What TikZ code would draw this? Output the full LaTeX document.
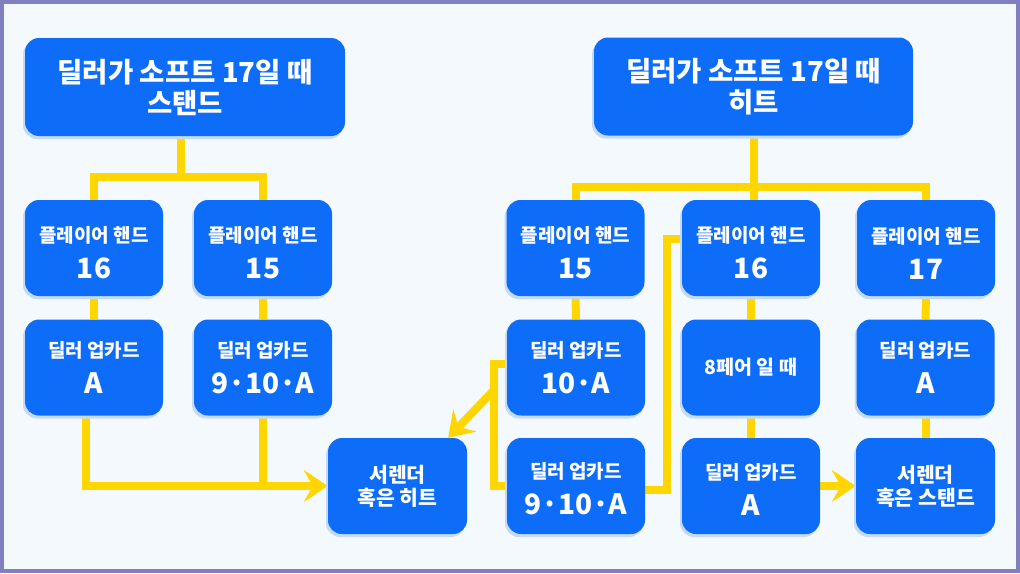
\documentclass[tikz,border=0pt]{standalone}
\usepackage{fontspec}
\setmainfont{Noto Sans CJK KR}[BoldFont={Noto Sans CJK KR Black}]
\usetikzlibrary{arrows.meta,backgrounds,shadows,calc}
\definecolor{nodeblue}{RGB}{13,108,248}
\definecolor{lineyellow}{RGB}{255,214,0}
\definecolor{bgcol}{RGB}{244,249,254}
\definecolor{framecol}{RGB}{128,128,192}
\definecolor{shadowcol}{RGB}{196,218,246}
\newcommand\mynum{\fontsize{28pt}{36pt}\selectfont}
\newcommand\mylab{\fontsize{19pt}{36pt}\selectfont}
\begin{document}
\begin{tikzpicture}[x=1pt,y=-1pt,
  box/.style={rounded corners=14pt, fill=nodeblue, text=white, align=center, inner sep=0pt,
    drop shadow={shadow xshift=-2pt, shadow yshift=-3pt, fill=shadowcol, opacity=1}},
  topbox/.style={box, minimum width=320pt, minimum height=98pt, font=\bfseries\fontsize{27.5pt}{31pt}\selectfont},
  hand/.style={box, minimum width=138pt, minimum height=96pt, font=\bfseries\mylab},
  endbox/.style={box, minimum width=139pt, minimum height=96pt, font=\bfseries\fontsize{20.5pt}{23pt}\selectfont},
  conn/.style={draw=lineyellow, line width=8pt},
  arr/.style={-{Stealth[length=24pt,width=32pt,inset=9pt]}}]
\useasboundingbox (0,0) rectangle (1020,573);
% nodes
\node[topbox] (T1) at (185,87) {딜러가 소프트 17일 때\\스탠드};
\node[topbox, minimum width=319pt] (T2) at (753.5,86.5) {딜러가 소프트 17일 때\\히트};
\node[hand] (L1) at (94,248) {\rule{0pt}{26pt}플레이어 핸드\\\mynum 16};
\node[hand] (L2) at (263,248) {\rule{0pt}{26pt}플레이어 핸드\\\mynum 15};
\node[hand] (L3) at (94,367.5) {딜러 업카드\\\mynum A};
\node[hand] (L4) at (263,367.5) {딜러 업카드\\\mynum 9·10·A};
\node[endbox] (M) at (397.5,486) {서렌더\\혹은 히트};
\node[hand] (R1) at (575.5,248) {\rule{0pt}{26pt}플레이어 핸드\\\mynum 15};
\node[hand] (R2) at (751,248) {\rule{0pt}{26pt}플레이어 핸드\\\mynum 16};
\node[hand] (R3) at (926,248) {\rule{0pt}{26pt}플레이어 핸드\\\mynum 17};
\node[hand] (R4) at (576,367.5) {딜러 업카드\\\mynum 10·A};
\node[hand, font=\bfseries\fontsize{19.5pt}{24pt}\selectfont] (R5) at (751,367.5) {8페어 일 때};
\node[hand] (R6) at (925.5,367.5) {딜러 업카드\\\mynum A};
\node[hand] (R7) at (576,486) {\rule{0pt}{22pt}딜러 업카드\\\mynum 9·10·A};
\node[hand] (R8) at (751,486) {\rule{0pt}{22pt}딜러 업카드\\\mynum A};
\node[endbox, minimum width=139pt] (R9) at (925.5,486) {서렌더\\혹은 스탠드};
\begin{scope}[on background layer]
  \fill[bgcol] (0,0) rectangle (1020,573);
  \draw[framecol, line width=4pt] (2,2) rectangle (1018,571);
  % left tree
  \draw[conn] ([xshift=-4pt]T1.south) -- ++(0,41) coordinate (j1);
  \draw[conn] (L1.north) |- (j1) -| (L2.north);
  \draw[conn] (L1.south) -- (L3.north);
  \draw[conn] (L2.south) -- (L4.north);
  \draw[conn, arr] ([xshift=-8pt]L3.south) |- (M.west);
  \draw[conn] (L4.south) -- (L4.south |- M.west);
  % right tree
  \draw[conn] (T2.south) -- ++(0,51) coordinate (j2);
  \draw[conn] (R1.north) |- (j2) -| (R3.north);
  \draw[conn] (j2) -- (j2 |- R2.north);
  \draw[conn] (R1.south) -- (R4.north);
  \draw[conn] (R2.south) -- (R5.north);
  \draw[conn] (R5.south) -- (R8.north);
  \draw[conn] (R3.south) -- (R6.north);
  \draw[conn] (R6.south) -- (R9.north);
  \draw[conn, arr] (R8.east) -- (R9.west);
  \draw[conn] ([yshift=4pt]R4.west) -- ++(-13,0) coordinate (b1) |- (R7.west);
  \coordinate (d1) at (494,390);
  \draw[conn, arr] (d1) -- ([xshift=-19pt]M.north east);
  \draw[conn] ([yshift=9pt]R2.west) -- ++(-15,0) |- ([yshift=-4pt]R7.east);
\end{scope}
\end{tikzpicture}
\end{document}
